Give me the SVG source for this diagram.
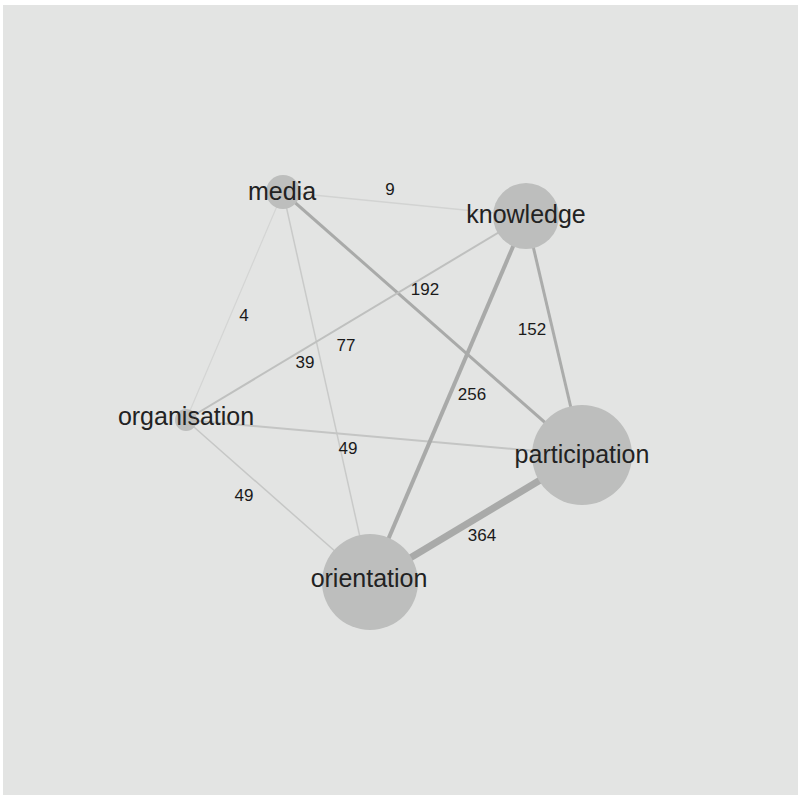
<svg xmlns="http://www.w3.org/2000/svg" width="798" height="795" viewBox="0 0 798 795">
<style>
.e{fill:none;stroke-linecap:butt}
.n circle{fill:#bdbebd}
.lbl{font-family:"Liberation Sans",Arial,sans-serif;font-size:25px;fill:#222;text-anchor:middle}
.w{font-family:"Liberation Sans",Arial,sans-serif;font-size:17px;fill:#1a1a1a;text-anchor:middle}
</style>
<rect x="0" y="0" width="798" height="795" fill="#ffffff"/>
<rect x="3" y="5" width="795" height="790" fill="#e3e4e3"/>
<g id="connectors">
<line class="e" x1="283" y1="192" x2="526" y2="216" stroke="#d2d3d2" stroke-width="1.5"/>
<line class="e" x1="283" y1="192" x2="186" y2="420" stroke="#d4d5d4" stroke-width="1.2"/>
<line class="e" x1="283" y1="192" x2="370" y2="582" stroke="#c9cac9" stroke-width="1.5"/>
<line class="e" x1="283" y1="192" x2="582" y2="455" stroke="#a9aaa9" stroke-width="3"/>
<line class="e" x1="186" y1="420" x2="526" y2="216" stroke="#bfc0bf" stroke-width="2"/>
<line class="e" x1="186" y1="420" x2="582" y2="455" stroke="#c4c5c4" stroke-width="2"/>
<line class="e" x1="186" y1="420" x2="370" y2="582" stroke="#c6c7c6" stroke-width="1.5"/>
<line class="e" x1="526" y1="216" x2="582" y2="455" stroke="#abacab" stroke-width="3"/>
<line class="e" x1="526" y1="216" x2="370" y2="582" stroke="#a9aaa9" stroke-width="4"/>
<line class="e" x1="582" y1="455" x2="370" y2="582" stroke="#a9aaa9" stroke-width="7"/>
</g>
<g id="node-media" class="n"><circle cx="283" cy="192" r="17"/></g>
<g id="node-knowledge" class="n"><circle cx="526" cy="216" r="33"/></g>
<g id="node-organisation" class="n"><circle cx="186" cy="420" r="11"/></g>
<g id="node-participation" class="n"><circle cx="582" cy="455" r="50"/></g>
<g id="node-orientation" class="n"><circle cx="370" cy="582" r="48"/></g>
<g id="edge-labels">
<text class="w" x="390" y="195">9</text>
<text class="w" x="244" y="321">4</text>
<text class="w" x="425" y="295">192</text>
<text class="w" x="532" y="335">152</text>
<text class="w" x="346" y="351">77</text>
<text class="w" x="305" y="368">39</text>
<text class="w" x="472" y="400">256</text>
<text class="w" x="348" y="454">49</text>
<text class="w" x="244" y="501">49</text>
<text class="w" x="482" y="541">364</text>
</g>
<g id="node-labels">
<text class="lbl" x="282" y="200">media</text>
<text class="lbl" x="526" y="223">knowledge</text>
<text class="lbl" x="186" y="425">organisation</text>
<text class="lbl" x="582" y="463">participation</text>
<text class="lbl" x="369" y="587">orientation</text>
</g>
</svg>
